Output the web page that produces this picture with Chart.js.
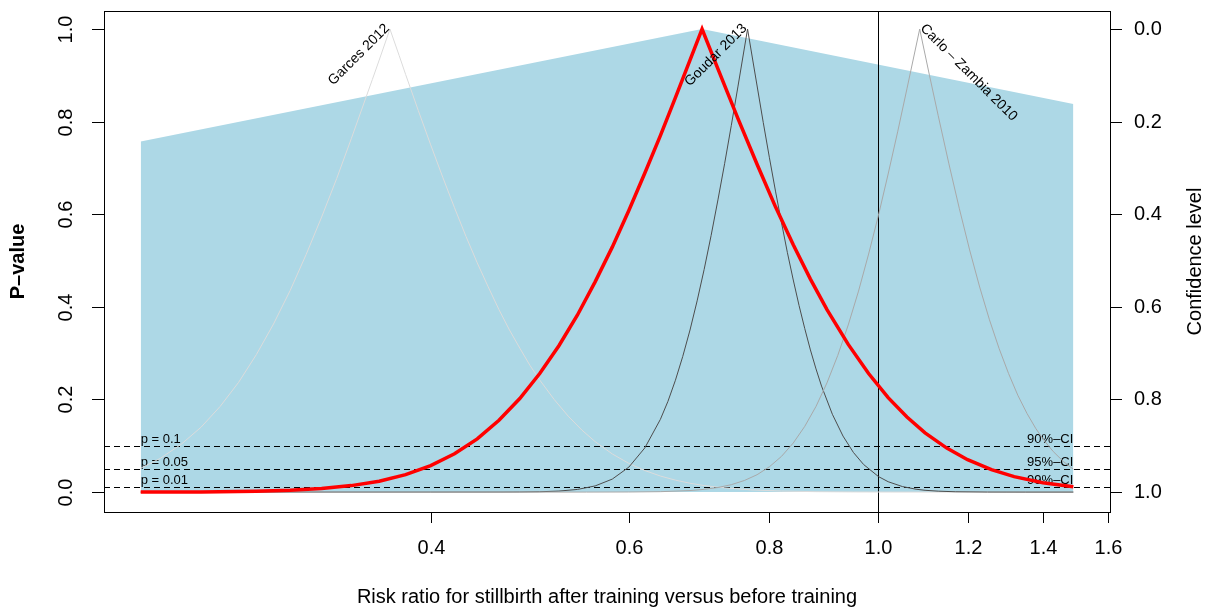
<!DOCTYPE html>
<html>
<head>
<meta charset="utf-8">
<script src="https://cdn.jsdelivr.net/npm/chart.js@4.4.1/dist/chart.umd.min.js"></script>
<style>
  html, body { margin: 0; padding: 0; background: #fff; }
  #wrap { width: 1207px; height: 610px; }
</style>
</head>
<body>
<div id="wrap"><canvas id="pvalChart" width="1207" height="610"></canvas></div>
<script>
// p-value functions (x = risk ratio, y = p-value)
const pooledRR = [0.221, 0.25, 0.28, 0.30, 0.32, 0.34, 0.36, 0.38, 0.40, 0.42, 0.44, 0.46, 0.48, 0.50, 0.52, 0.54, 0.56, 0.58, 0.60, 0.62, 0.64, 0.66, 0.68, 0.697, 0.72, 0.75, 0.78, 0.81, 0.84, 0.87, 0.90, 0.94, 0.98, 1.02, 1.06, 1.10, 1.15, 1.20, 1.26, 1.32, 1.40, 1.49];
const pooledP  = [0.0001, 0.0004, 0.0018, 0.0039, 0.0077, 0.014, 0.0236, 0.0378, 0.0572, 0.0828, 0.115, 0.155, 0.202, 0.256, 0.316, 0.382, 0.454, 0.529, 0.608, 0.689, 0.770, 0.852, 0.933, 1.0, 0.914, 0.807, 0.708, 0.616, 0.534, 0.460, 0.394, 0.319, 0.256, 0.204, 0.162, 0.128, 0.095, 0.070, 0.0484, 0.0333, 0.0201, 0.0113];

const garcesRR = [0.221, 0.23, 0.24, 0.25, 0.26, 0.27, 0.28, 0.29, 0.30, 0.31, 0.32, 0.33, 0.34, 0.355, 0.36, 0.368, 0.375, 0.38, 0.39, 0.40, 0.41, 0.42, 0.43, 0.44, 0.45, 0.46, 0.47, 0.48, 0.49, 0.50, 0.515, 0.53, 0.545, 0.56, 0.58, 0.60, 0.62, 0.64, 0.66, 0.68, 0.70, 0.72, 0.77, 0.82, 0.88, 0.95, 1.03, 1.15, 1.30, 1.49];
const garcesP  = [0.0516, 0.0728, 0.103, 0.140, 0.185, 0.237, 0.297, 0.363, 0.435, 0.513, 0.594, 0.677, 0.763, 0.891, 0.933, 1.0, 0.943, 0.902, 0.824, 0.750, 0.680, 0.614, 0.552, 0.495, 0.443, 0.394, 0.350, 0.311, 0.274, 0.242, 0.200, 0.164, 0.134, 0.109, 0.0824, 0.062, 0.0465, 0.0347, 0.0258, 0.0191, 0.0141, 0.0104, 0.0048, 0.0022, 0.0009, 0.0003, 0.0001, 0, 0, 0];

const goudarRR = [0.221, 0.40, 0.46, 0.48, 0.50, 0.52, 0.54, 0.56, 0.58, 0.60, 0.62, 0.64, 0.65, 0.66, 0.67, 0.68, 0.69, 0.70, 0.71, 0.72, 0.73, 0.74, 0.75, 0.765, 0.775, 0.79, 0.80, 0.81, 0.82, 0.83, 0.84, 0.85, 0.86, 0.87, 0.88, 0.89, 0.91, 0.93, 0.95, 0.97, 1.00, 1.02, 1.05, 1.08, 1.10, 1.13, 1.17, 1.25, 1.35, 1.49];
const goudarP  = [0, 0, 0.00005, 0.0002, 0.0007, 0.0022, 0.0057, 0.0133, 0.028, 0.0539, 0.0955, 0.157, 0.196, 0.2415, 0.293, 0.350, 0.413, 0.481, 0.554, 0.631, 0.710, 0.792, 0.875, 1.0, 0.918, 0.798, 0.722, 0.650, 0.582, 0.517, 0.458, 0.403, 0.353, 0.307, 0.266, 0.229, 0.168, 0.121, 0.0856, 0.0596, 0.0335, 0.0224, 0.012, 0.0062, 0.0039, 0.002, 0.0007, 0.0001, 0, 0];

const carloRR = [0.221, 0.45, 0.55, 0.60, 0.64, 0.68, 0.70, 0.72, 0.74, 0.76, 0.78, 0.80, 0.82, 0.84, 0.86, 0.88, 0.90, 0.92, 0.94, 0.96, 0.98, 1.00, 1.02, 1.04, 1.06, 1.088, 1.11, 1.13, 1.155, 1.18, 1.205, 1.23, 1.255, 1.28, 1.305, 1.33, 1.355, 1.38, 1.405, 1.43, 1.46, 1.49];
const carloP  = [0, 0, 0.00002, 0.0002, 0.0009, 0.0033, 0.0059, 0.0099, 0.016, 0.025, 0.0375, 0.0547, 0.0771, 0.106, 0.142, 0.185, 0.236, 0.295, 0.361, 0.434, 0.514, 0.598, 0.687, 0.778, 0.871, 1.0, 0.900, 0.813, 0.709, 0.612, 0.523, 0.443, 0.372, 0.310, 0.256, 0.209, 0.170, 0.137, 0.110, 0.0875, 0.066, 0.0493];

// blue shaded band (top edge)
const shadeRR = [0.221, 0.697, 1.49];
const shadeP  = [0.757, 1.0, 0.838];

const studyNames = ["Garces 2012", "Goudar 2013", "Carlo – Zambia 2010"];
const studyPeaks = [0.368, 0.765, 1.088];

const xTicks = [0.4, 0.6, 0.8, 1.0, 1.2, 1.4, 1.6];
const pTicks = [0, 0.2, 0.4, 0.6, 0.8, 1.0];
const refLevels = [0.1, 0.05, 0.01];
const refLeft = ["p = 0.1", "p = 0.05", "p = 0.01"];
const refRight = ["90%–CI", "95%–CI", "99%–CI"];
const nullValue = 1.0;

const FONT = '"Liberation Sans", Arial, Helvetica, sans-serif';

function pts(xs, ys) {
  return xs.map((x, i) => ({x: x, y: ys[i]}));
}

const rStyle = {
  id: 'rStyle',
  afterDatasetDraw(chart, args) {
    if (chart.data.datasets[args.index].label !== 'shade') return;
    const ctx = chart.ctx, a = chart.chartArea;
    const xs = chart.scales.x, ys = chart.scales.y;
    ctx.save();
    ctx.strokeStyle = '#000';
    ctx.lineWidth = 1;
    ctx.setLineDash([6, 4]);
    refLevels.forEach((lv) => {
      const py = Math.round(ys.getPixelForValue(lv)) + 0.5;
      ctx.beginPath();
      ctx.moveTo(a.left, py);
      ctx.lineTo(a.right, py);
      ctx.stroke();
    });
    ctx.setLineDash([]);
    const vx = Math.round(xs.getPixelForValue(nullValue)) + 0.5;
    ctx.beginPath();
    ctx.moveTo(vx, a.top);
    ctx.lineTo(vx, a.bottom);
    ctx.stroke();

    ctx.fillStyle = '#000';
    ctx.font = '13px ' + FONT;
    ctx.textBaseline = 'alphabetic';
    const lx = xs.getPixelForValue(pooledRR[0]);
    const rx = xs.getPixelForValue(pooledRR[pooledRR.length - 1]);
    refLevels.forEach((lv, i) => {
      const py = ys.getPixelForValue(lv) - 3;
      ctx.textAlign = 'left';
      ctx.fillText(refLeft[i], lx, py);
      ctx.textAlign = 'right';
      ctx.fillText(refRight[i], rx, py);
    });
    ctx.restore();
  },
  afterDatasetsDraw(chart) {
    const ctx = chart.ctx;
    const xs = chart.scales.x, ys = chart.scales.y;
    ctx.save();
    ctx.fillStyle = '#000';
    ctx.font = '14px ' + FONT;
    ctx.textBaseline = 'alphabetic';
    studyNames.forEach((name, i) => {
      const px = xs.getPixelForValue(studyPeaks[i]);
      const py = ys.getPixelForValue(1.0);
      ctx.save();
      ctx.translate(px, py);
      if (i < 2) {
        ctx.rotate(-Math.PI / 4);
        ctx.textAlign = 'right';
      } else {
        ctx.rotate(Math.PI / 4);
        ctx.textAlign = 'left';
      }
      ctx.fillText(name, 0, 0);
      ctx.restore();
    });
    ctx.restore();
  },
  afterDraw(chart) {
    const ctx = chart.ctx, a = chart.chartArea;
    const xs = chart.scales.x, ys = chart.scales.y;
    ctx.save();
    ctx.strokeStyle = '#000';
    ctx.fillStyle = '#000';
    ctx.lineWidth = 1;
    ctx.strokeRect(a.left + 0.5, a.top + 0.5, a.right - a.left, a.bottom - a.top);

    ctx.font = '20px ' + FONT;
    // bottom axis
    ctx.textAlign = 'center';
    ctx.textBaseline = 'middle';
    xTicks.forEach((t) => {
      const px = Math.round(xs.getPixelForValue(t)) + 0.5;
      ctx.beginPath();
      ctx.moveTo(px, a.bottom);
      ctx.lineTo(px, a.bottom + 11);
      ctx.stroke();
      ctx.fillText(t.toFixed(1), px, a.bottom + 36);
    });
    // left and right axes
    pTicks.forEach((t) => {
      const py = Math.round(ys.getPixelForValue(t)) + 0.5;
      ctx.beginPath();
      ctx.moveTo(a.left - 12, py);
      ctx.lineTo(a.left, py);
      ctx.moveTo(a.right, py);
      ctx.lineTo(a.right + 12, py);
      ctx.stroke();
      ctx.save();
      ctx.translate(a.left - 38, py);
      ctx.rotate(-Math.PI / 2);
      ctx.textAlign = 'center';
      ctx.fillText(t.toFixed(1), 0, 0);
      ctx.restore();
      ctx.textAlign = 'left';
      ctx.fillText((1 - t).toFixed(1), a.right + 24, py);
    });

    const midY = (a.top + a.bottom) / 2;
    ctx.textAlign = 'center';
    ctx.fillText('Risk ratio for stillbirth after training versus before training', (a.left + a.right) / 2, a.bottom + 85);
    ctx.save();
    ctx.translate(18, midY);
    ctx.rotate(-Math.PI / 2);
    ctx.font = 'bold 20px ' + FONT;
    ctx.fillText('P–value', 0, 0);
    ctx.restore();
    ctx.save();
    ctx.translate(a.right + 85, midY);
    ctx.rotate(-Math.PI / 2);
    ctx.fillText('Confidence level', 0, 0);
    ctx.restore();
    ctx.restore();
  }
};

new Chart(document.getElementById('pvalChart'), {
  type: 'scatter',
  data: {
    datasets: [
      { label: 'pooled', data: pts(pooledRR, pooledP), showLine: true, borderColor: '#ff0000', borderWidth: 3.5, pointRadius: 0, order: 0 },
      { label: 'Carlo', data: pts(carloRR, carloP), showLine: true, borderColor: '#a9a9a9', borderWidth: 1, pointRadius: 0, order: 1 },
      { label: 'Goudar', data: pts(goudarRR, goudarP), showLine: true, borderColor: '#4d4d4d', borderWidth: 1, pointRadius: 0, order: 2 },
      { label: 'Garces', data: pts(garcesRR, garcesP), showLine: true, borderColor: '#dcdcdc', borderWidth: 1, pointRadius: 0, order: 3 },
      { label: 'shade', data: pts(shadeRR, shadeP), showLine: true, borderWidth: 0, borderColor: 'rgba(0,0,0,0)', backgroundColor: '#add8e6', fill: 'origin', pointRadius: 0, order: 10 }
    ]
  },
  options: {
    responsive: false,
    devicePixelRatio: 1,
    animation: false,
    events: [],
    layout: { padding: { left: 104, right: 97, top: 11, bottom: 98 } },
    plugins: { legend: { display: false }, tooltip: { enabled: false } },
    scales: {
      x: { type: 'logarithmic', min: 0.205, max: 1.606, display: false },
      y: { type: 'linear', min: -0.043, max: 1.039, display: false }
    }
  },
  plugins: [rStyle]
});
</script>
</body>
</html>
